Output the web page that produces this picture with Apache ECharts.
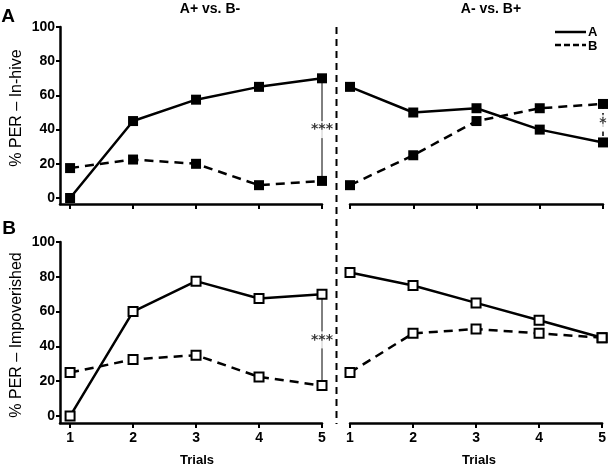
<!DOCTYPE html>
<html><head><meta charset="utf-8">
<script src="https://cdn.jsdelivr.net/npm/echarts@6/dist/echarts.min.js"></script>
<style>html,body{margin:0;padding:0;background:#fff}#c{width:609px;height:468px}</style>
</head><body><div id="c"></div>
<script>
const trials = [1, 2, 3, 4, 5];
const yTicks = [0, 20, 40, 60, 80, 100];
// In-hive, A+ vs. B-
const inhiveAB_A = [0, 45, 57.5, 65, 70];
const inhiveAB_B = [17.5, 22.5, 20, 7.5, 10];
// In-hive, A- vs. B+
const inhiveBA_A = [65, 50, 52.5, 40, 32.5];
const inhiveBA_B = [7.5, 25, 45, 52.5, 55];
// Impoverished, A+ vs. B-
const impAB_A = [0, 60, 77.5, 67.5, 70];
const impAB_B = [25, 32.5, 35, 22.5, 17.5];
// Impoverished, A- vs. B+
const impBA_A = [82.5, 75, 65, 55, 45];
const impBA_B = [25, 47.5, 50, 47.5, 45];
// significance markers
const sigPanels = [0, 1, 2];
const sigTrial = [5, 5, 5];
const sigFrom = [70, 55, 70];
const sigTo = [10, 32.5, 17.5];
const sigText = ['***', '*', '***'];
const sigDashed = [false, true, false];

const FONT = 'Liberation Sans, Arial, sans-serif';
const chart = echarts.init(document.getElementById('c'));

const grids = [
  {left: 60, right: 287, top: 27, bottom: 264},
  {left: 350, right: 6, top: 27, bottom: 264},
  {left: 60, right: 287, top: 242, bottom: 45},
  {left: 350, right: 6, top: 242, bottom: 45}
];
function xAxis(i, showLabels) {
  const left = (i % 2 === 0);
  return {
    type: 'value', gridIndex: i, min: left ? 0.84 : 1, max: 5,
    axisLine: {show: true, onZero: false, lineStyle: {color: '#000', width: 2.5}},
    axisTick: {show: true, customValues: trials, length: 5, lineStyle: {color: '#000', width: 2}},
    axisLabel: {show: showLabels, customValues: trials, color: '#000', fontFamily: FONT, fontWeight: 'bold', fontSize: 14, margin: 8},
    splitLine: {show: false}
  };
}
function yAxis(i, minV) {
  const left = (i % 2 === 0);
  return {
    type: 'value', gridIndex: i, min: minV, max: 100, show: left,
    axisLine: {show: true, onZero: false, lineStyle: {color: '#000', width: 2.5}},
    axisTick: {show: true, customValues: yTicks, length: 4, lineStyle: {color: '#000', width: 2}},
    axisLabel: {customValues: yTicks, color: '#000', fontFamily: FONT, fontWeight: 'bold', fontSize: 14, margin: 5},
    splitLine: {show: false}
  };
}
const pts = arr => trials.map((t, i) => [t, arr[i]]);
function lineSeries(i, arr, dashed, filled) {
  return {
    type: 'line', xAxisIndex: i, yAxisIndex: i, data: pts(arr),
    symbol: 'rect', symbolSize: filled ? 10 : 9, z: 3,
    itemStyle: filled ? {color: '#000'} : {color: '#fff', borderColor: '#000', borderWidth: 2},
    lineStyle: {color: '#000', width: 2.5, type: dashed ? [9, 6] : 'solid'},
    animation: false
  };
}
const series = [
  lineSeries(0, inhiveAB_A, false, true), lineSeries(0, inhiveAB_B, true, true),
  lineSeries(1, inhiveBA_A, false, true), lineSeries(1, inhiveBA_B, true, true),
  lineSeries(2, impAB_A, false, false), lineSeries(2, impAB_B, true, false),
  lineSeries(3, impBA_A, false, false), lineSeries(3, impBA_B, true, false)
];
sigPanels.forEach((p, k) => {
  series.push({
    type: 'line', xAxisIndex: p, yAxisIndex: p, symbol: 'none', z: 1, animation: false,
    data: [[sigTrial[k], sigFrom[k]], [sigTrial[k], sigTo[k]]],
    lineStyle: {color: '#000', width: sigDashed[k] ? 1.5 : 1, type: sigDashed[k] ? [5, 4] : 'solid'}
  });
  series.push({
    type: 'scatter', xAxisIndex: p, yAxisIndex: p, symbolSize: 0, z: 2, animation: false,
    data: [[sigTrial[k], (sigFrom[k] + sigTo[k]) / 2]],
    label: {show: true, position: 'inside', formatter: sigText[k], color: '#000', fontFamily: 'DejaVu Sans, sans-serif',
      fontWeight: 'bold', fontSize: 14, backgroundColor: '#fff', padding: [4, 0, 0, 0], lineHeight: 13}
  });
});

chart.setOption({
  animation: false,
  grid: grids,
  xAxis: [xAxis(0, false), xAxis(1, false), xAxis(2, true), xAxis(3, true)],
  yAxis: [yAxis(0, -3.5), yAxis(1, -3.5), yAxis(2, -4), yAxis(3, -4)],
  series: series,
  graphic: [
    {type: 'text', x: 8, y: 17, style: {text: 'A', font: 'bold 19px ' + FONT, fill: '#000', textAlign: 'center', textVerticalAlign: 'middle'}},
    {type: 'text', x: 9, y: 229, style: {text: 'B', font: 'bold 19px ' + FONT, fill: '#000', textAlign: 'center', textVerticalAlign: 'middle'}},
    {type: 'text', x: 210, y: 9, style: {text: 'A+ vs. B-', font: 'bold 14px ' + FONT, fill: '#000', textAlign: 'center', textVerticalAlign: 'middle'}},
    {type: 'text', x: 491, y: 9, style: {text: 'A- vs. B+', font: 'bold 14px ' + FONT, fill: '#000', textAlign: 'center', textVerticalAlign: 'middle'}},
    {type: 'text', x: 17, y: 108, rotation: Math.PI / 2, style: {text: '% PER – In-hive', font: '16px ' + FONT, fill: '#000', textAlign: 'center', textVerticalAlign: 'middle'}},
    {type: 'text', x: 17, y: 335, rotation: Math.PI / 2, style: {text: '% PER – Impoverished', font: '16px ' + FONT, fill: '#000', textAlign: 'center', textVerticalAlign: 'middle'}},
    {type: 'text', x: 197, y: 460, style: {text: 'Trials', font: 'bold 13px ' + FONT, fill: '#000', textAlign: 'center', textVerticalAlign: 'middle'}},
    {type: 'text', x: 479, y: 460, style: {text: 'Trials', font: 'bold 13px ' + FONT, fill: '#000', textAlign: 'center', textVerticalAlign: 'middle'}},
    {type: 'line', shape: {x1: 336.5, y1: 27, x2: 336.5, y2: 424}, style: {stroke: '#000', lineWidth: 2, lineDash: [7, 5]}},
    {type: 'line', shape: {x1: 555, y1: 32, x2: 586, y2: 32}, style: {stroke: '#000', lineWidth: 2.5}},
    {type: 'line', shape: {x1: 555, y1: 45, x2: 586, y2: 45}, style: {stroke: '#000', lineWidth: 2.5, lineDash: [6, 3]}},
    {type: 'text', x: 588, y: 32, style: {text: 'A', font: 'bold 13px ' + FONT, fill: '#000', textAlign: 'left', textVerticalAlign: 'middle'}},
    {type: 'text', x: 588, y: 46, style: {text: 'B', font: 'bold 13px ' + FONT, fill: '#000', textAlign: 'left', textVerticalAlign: 'middle'}}
  ]
});
</script></body></html>
